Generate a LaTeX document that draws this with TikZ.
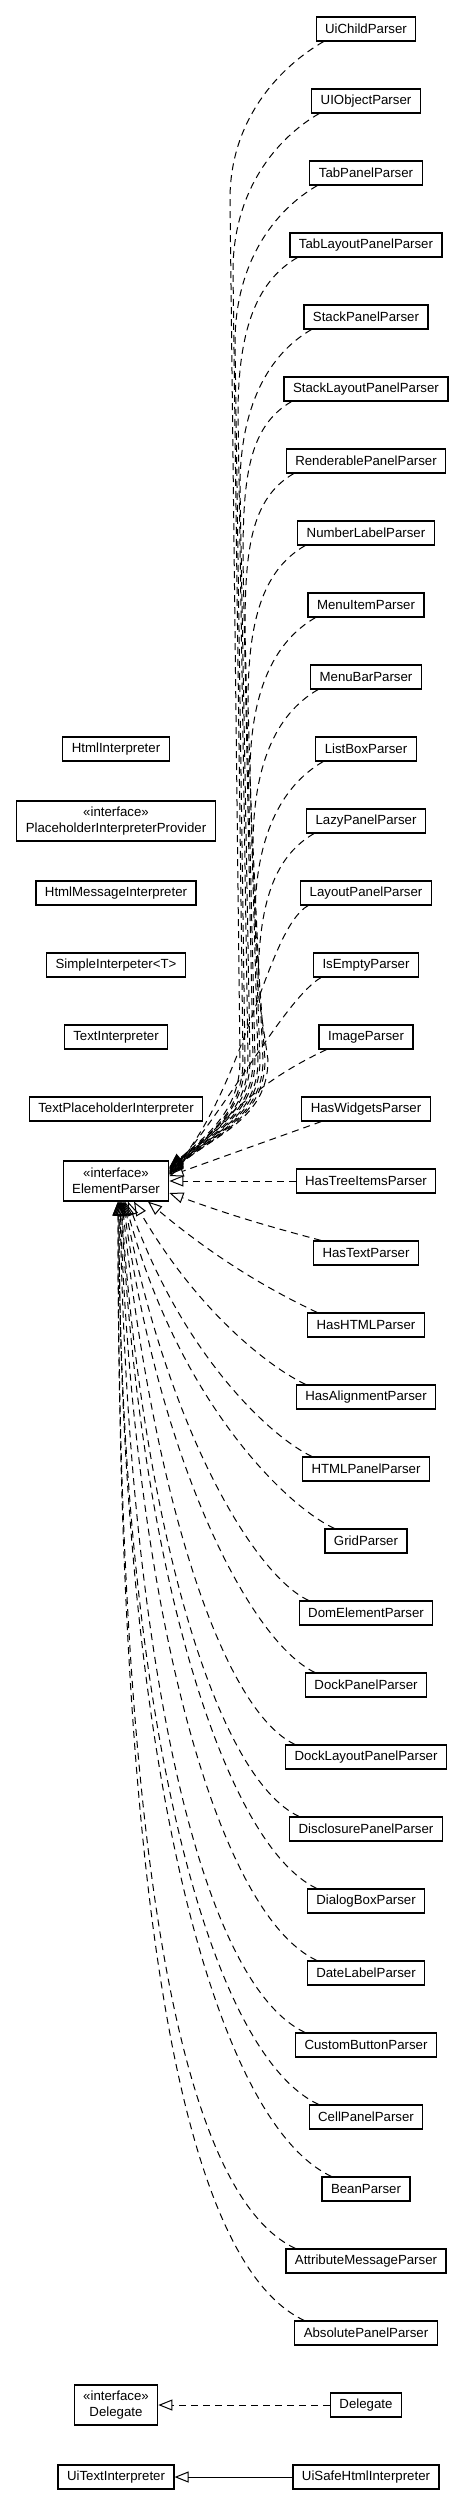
\documentclass[tikz,border=0pt]{standalone}
\usepackage{fontspec}
\setmainfont{Liberation Sans}
\usetikzlibrary{arrows.meta,positioning}

\begin{document}
\begin{tikzpicture}[x=1pt, y=1pt, node distance=72pt, font=\fontsize{13.25}{16}\selectfont,
  box/.style={draw,line width=1.2pt,minimum height=24pt,inner xsep=9pt,inner ysep=2pt},
  ibox/.style={box,align=center,minimum height=40pt},
  realize/.style={line width=1pt,dash pattern=on 7pt off 5pt,-{Triangle[open,length=14pt,width=11pt]}},
  extend/.style={line width=1pt,-{Triangle[open,length=14pt,width=11pt]}},
  goleft/.style={out=210,in=90,out distance=50pt,in distance=80pt},
  godown/.style={out=-90,in=40}]
\useasboundingbox (0,0) rectangle (464,-2508);

% parsers, one column
\node(uichild) at (366,-29) [box]{UiChildParser};
\node(uiobject)[box,below of=uichild]{UIObjectParser};
\node(tabpanel)[box,below of=uiobject]{TabPanelParser};
\node(tablayout)[box,below of=tabpanel]{TabLayoutPanelParser};
\node(stackpanel)[box,below of=tablayout]{StackPanelParser};
\node(stacklayout)[box,below of=stackpanel]{StackLayoutPanelParser};
\node(renderable)[box,below of=stacklayout]{RenderablePanelParser};
\node(numberlabel)[box,below of=renderable]{NumberLabelParser};
\node(menuitem)[box,below of=numberlabel]{MenuItemParser};
\node(menubar)[box,below of=menuitem]{MenuBarParser};
\node(listbox)[box,below of=menubar]{ListBoxParser};
\node(lazypanel)[box,below of=listbox]{LazyPanelParser};
\node(layoutpanel)[box,below of=lazypanel]{LayoutPanelParser};
\node(isempty)[box,below of=layoutpanel]{IsEmptyParser};
\node(image)[box,below of=isempty]{ImageParser};
\node(haswidgets)[box,below of=image]{HasWidgetsParser};
\node(hastreeitems)[box,below of=haswidgets]{HasTreeItemsParser};
\node(hastext)[box,below of=hastreeitems]{HasTextParser};
\node(hashtml)[box,below of=hastext]{HasHTMLParser};
\node(hasalignment)[box,below of=hashtml]{HasAlignmentParser};
\node(htmlpanel)[box,below of=hasalignment]{HTMLPanelParser};
\node(grid)[box,below of=htmlpanel]{GridParser};
\node(domelement)[box,below of=grid]{DomElementParser};
\node(dockpanel)[box,below of=domelement]{DockPanelParser};
\node(docklayout)[box,below of=dockpanel]{DockLayoutPanelParser};
\node(disclosure)[box,below of=docklayout]{DisclosurePanelParser};
\node(dialogbox)[box,below of=disclosure]{DialogBoxParser};
\node(datelabel)[box,below of=dialogbox]{DateLabelParser};
\node(custombutton)[box,below of=datelabel]{CustomButtonParser};
\node(cellpanel)[box,below of=custombutton]{CellPanelParser};
\node(bean)[box,below of=cellpanel]{BeanParser};
\node(attributemessage)[box,below of=bean]{AttributeMessageParser};
\node(absolutepanel)[box,below of=attributemessage]{AbsolutePanelParser};
\node(delegate)[box,below of=absolutepanel]{Delegate};
\node(uisafehtml)[box,below of=delegate]{UiSafeHtmlInterpreter};

% left column
\node(elem)[ibox,node distance=250pt,left of=hastreeitems]{«interface»\\ElementParser};
\node(textplaceholder)[box,above of=elem]{TextPlaceholderInterpreter};
\node(textinterp)[box,above of=textplaceholder]{TextInterpreter};
\node(simpleinterp)[box,above of=textinterp]{SimpleInterpeter<T>};
\node(htmlmessage)[box,above of=simpleinterp]{HtmlMessageInterpreter};
\node(placeholderprov)[ibox,above of=htmlmessage]{«interface»\\PlaceholderInterpreterProvider};
\node(htmlinterp)[box,above of=placeholderprov]{HtmlInterpreter};
\node(idelegate)[ibox,node distance=250pt,left of=delegate]{«interface»\\Delegate};
\node(uitext)[box,node distance=250pt,left of=uisafehtml]{UiTextInterpreter};

% realizations from above
\draw[realize] ([xshift=8pt]uichild.south west) to[goleft] (230,-199) -- (240,-1060) to[godown] ([yshift=14pt]elem.east);
\draw[realize] ([xshift=8pt]uiobject.south west) to[goleft] (233,-271) -- (243,-1060) to[godown] ([yshift=13pt]elem.east);
\draw[realize] ([xshift=8pt]tabpanel.south west) to[goleft] (235,-343) -- (245,-1060) to[godown] ([yshift=13pt]elem.east);
\draw[realize] ([xshift=8pt]tablayout.south west) to[goleft] (238,-415) -- (248,-1060) to[godown] ([yshift=12pt]elem.east);
\draw[realize] ([xshift=8pt]stackpanel.south west) to[goleft] (240,-487) -- (250,-1060) to[godown] ([yshift=12pt]elem.east);
\draw[realize] ([xshift=8pt]stacklayout.south west) to[goleft] (243,-559) -- (253,-1060) to[godown] ([yshift=11pt]elem.east);
\draw[realize] ([xshift=8pt]renderable.south west) to[goleft] (245,-631) -- (255,-1060) to[godown] ([yshift=10pt]elem.east);
\draw[realize] ([xshift=8pt]numberlabel.south west) to[goleft] (248,-703) -- (258,-1060) to[godown] ([yshift=10pt]elem.east);
\draw[realize] ([xshift=8pt]menuitem.south west) to[goleft] (250,-775) -- (260,-1060) to[godown] ([yshift=9pt]elem.east);
\draw[realize] ([xshift=8pt]menubar.south west) to[goleft] (253,-847) -- (263,-1060) to[godown] ([yshift=9pt]elem.east);
\draw[realize] ([xshift=8pt]listbox.south west) to[goleft] (255,-919) -- (265,-1060) to[godown] ([yshift=8pt]elem.east);
\draw[realize] ([xshift=8pt]lazypanel.south west) to[goleft] (258,-991) -- (268,-1060) to[godown] ([yshift=8pt]elem.east);
\draw[realize] ([xshift=8pt]layoutpanel.south west) to[out=210,in=50,out looseness=.4] ([yshift=7pt]elem.east);
\draw[realize] ([xshift=8pt]isempty.south west) to[out=210,in=50,out looseness=.4] ([yshift=7pt]elem.east);
\draw[realize] ([xshift=8pt]image.south west) to[out=205,in=45] ([yshift=6pt]elem.east);
\draw[realize] ([xshift=20pt]haswidgets.south west) -- ([yshift=5pt]elem.east);
\draw[realize] (hastreeitems) -- (elem);

% realizations from below
\draw[realize] ([xshift=8pt]hastext.north west) to[out=165,in=-20] ([yshift=-12pt]elem.east);
\draw[realize] ([xshift=10pt]hashtml.north west) .. controls +(-25,12) and +(82,-69) .. ([xshift=32pt]elem.south);
\draw[realize] ([xshift=10pt]hasalignment.north west) .. controls +(-32,15) and +(67,-115) .. ([xshift=18pt]elem.south);
\draw[realize] ([xshift=10pt]htmlpanel.north west) .. controls +(-39,18) and +(57,-157) .. ([xshift=12pt]elem.south);
\draw[realize] ([xshift=10pt]grid.north west) .. controls +(-48,22) and +(54,-200) .. ([xshift=9pt]elem.south);
\draw[realize] ([xshift=10pt]domelement.north west) .. controls +(-54,25) and +(45,-230) .. ([xshift=8pt]elem.south);
\draw[realize] ([xshift=10pt]dockpanel.north west) .. controls +(-63,30) and +(38,-267) .. ([xshift=7pt]elem.south);
\draw[realize] ([xshift=10pt]docklayout.north west) .. controls +(-71,33) and +(32,-301) .. ([xshift=6pt]elem.south);
\draw[realize] ([xshift=10pt]disclosure.north west) .. controls +(-80,37) and +(24,-339) .. ([xshift=5pt]elem.south);
\draw[realize] ([xshift=10pt]dialogbox.north west) .. controls +(-89,42) and +(20,-379) .. ([xshift=5pt]elem.south);
\draw[realize] ([xshift=10pt]datelabel.north west) .. controls +(-98,46) and +(15,-416) .. ([xshift=4pt]elem.south);
\draw[realize] ([xshift=10pt]custombutton.north west) .. controls +(-106,50) and +(8,-452) .. ([xshift=4pt]elem.south);
\draw[realize] ([xshift=10pt]cellpanel.north west) .. controls +(-115,54) and +(0,-491) .. ([xshift=3pt]elem.south);
\draw[realize] ([xshift=10pt]bean.north west) .. controls +(-124,58) and +(0,-529) .. ([xshift=3pt]elem.south);
\draw[realize] ([xshift=10pt]attributemessage.north west) .. controls +(-132,62) and +(0,-563) .. ([xshift=2pt]elem.south);
\draw[realize] ([xshift=10pt]absolutepanel.north west) .. controls +(-141,66) and +(0,-602) .. ([xshift=2pt]elem.south);

\draw[realize] (delegate) -- (idelegate);
\draw[extend] (uisafehtml) -- (uitext);

\end{tikzpicture}
\end{document}
